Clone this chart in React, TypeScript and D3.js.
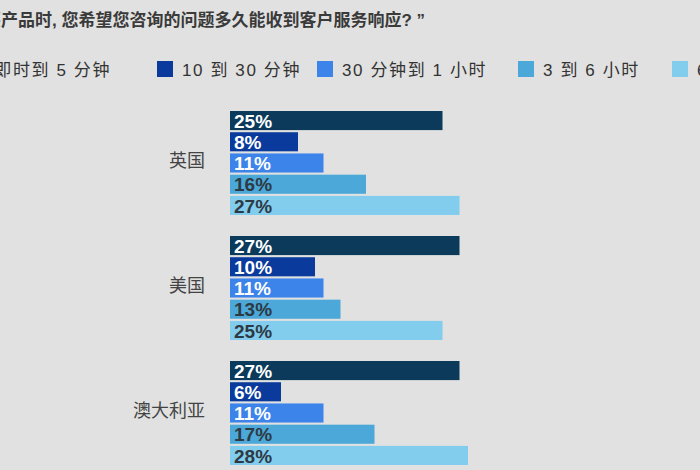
import { useEffect, useRef } from 'react';
import * as d3 from 'd3';

const countries = ['英国', '美国', '澳大利亚'];
const seriesNames = ['即时到 5 分钟', '10 到 30 分钟', '30 分钟到 1 小时', '3 到 6 小时', '6 到 24 小时'];
const ukValues = [25, 8, 11, 16, 27];
const usValues = [27, 10, 11, 13, 25];
const auValues = [27, 6, 11, 17, 28];
const titlePrefix = '“在购买';
const title = '产品时, 您希望您咨询的问题多久能收到客户服务响应? ”';

const COLORS = ['#0b3a5b', '#0a3b9c', '#3c84ea', '#4ba8d8', '#82cdee'];
const LABEL_COLORS = ['#ffffff', '#ffffff', '#ffffff', '#2d3a44', '#2d3a44'];
const FONT = '"Liberation Sans", Arial, "Noto Sans CJK SC", sans-serif';

export default function App() {
  const svgRef = useRef<SVGSVGElement>(null);

  useEffect(() => {
    if (!svgRef.current) return;
    const width = 700;
    const height = 470;
    const svg = d3.select(svgRef.current);
    svg.selectAll('*').remove();
    svg.attr('width', width).attr('height', height).style('font-family', FONT);

    svg.append('rect').attr('width', width).attr('height', height).attr('fill', '#e1e1e1');

    // title, clipped at the left edge like the source crop
    const titleEl = svg
      .append('text')
      .attr('y', 26)
      .attr('font-size', 17)
      .attr('font-weight', 700)
      .attr('fill', '#3a3a3a');
    titleEl.append('tspan').text(titlePrefix);
    titleEl.append('tspan').text(title);
    const prefixW = (titleEl.select('tspan').node() as SVGTextContentElement).getComputedTextLength();
    titleEl.attr('x', 1 - prefixW);

    // legend (first item runs off the left edge, last off the right)
    const squareX = [-140, 157, 317, 518, 672];
    const legend = svg.append('g').attr('transform', 'translate(0,61)');
    seriesNames.forEach((name, i) => {
      const item = legend.append('g');
      item
        .append('rect')
        .attr('x', squareX[i])
        .attr('width', 16)
        .attr('height', 16)
        .attr('fill', COLORS[i]);
      const t = item
        .append('text')
        .attr('y', 15)
        .attr('font-size', 17)
        .attr('letter-spacing', 1.6)
        .attr('fill', '#333')
        .text(name);
      if (i === 0) t.attr('x', 111).attr('text-anchor', 'end');
      else t.attr('x', squareX[i] + 25);
    });

    const data = [ukValues, usValues, auValues];

    const x = d3.scaleLinear().domain([0, 10]).range([230, 315]);
    const y = d3.scaleBand().domain(countries).range([111, 465]).paddingInner(0.168).paddingOuter(0);
    const yInner = d3
      .scaleBand<number>()
      .domain(d3.range(seriesNames.length))
      .range([0, y.bandwidth()])
      .paddingInner(0.1);

    countries.forEach((country, ci) => {
      const g = svg.append('g').attr('transform', `translate(0,${y(country)})`);

      g.append('text')
        .attr('x', 205)
        .attr('y', y.bandwidth() / 2 - 1)
        .attr('text-anchor', 'end')
        .attr('dominant-baseline', 'middle')
        .attr('font-size', 18)
        .attr('fill', '#444')
        .text(country);

      const bars = g
        .selectAll('g.bar')
        .data(data[ci].map((v, i) => ({ v, i })))
        .enter()
        .append('g')
        .attr('class', 'bar')
        .attr('transform', (d) => `translate(0,${yInner(d.i)})`);

      bars
        .append('rect')
        .attr('x', x(0))
        .attr('width', (d) => x(d.v) - x(0))
        .attr('height', yInner.bandwidth())
        .attr('fill', (d) => COLORS[d.i]);

      bars
        .append('text')
        .attr('x', x(0) + 4)
        .attr('y', yInner.bandwidth() - 2.5)
        .attr('font-size', 19)
        .attr('font-weight', 700)
        .attr('fill', (d) => LABEL_COLORS[d.i])
        .text((d) => `${d.v}%`);
    });
  }, []);

  return (
    <div style={{ position: 'absolute', left: 0, top: 0 }}>
      <svg ref={svgRef} style={{ display: 'block' }} />
    </div>
  );
}
